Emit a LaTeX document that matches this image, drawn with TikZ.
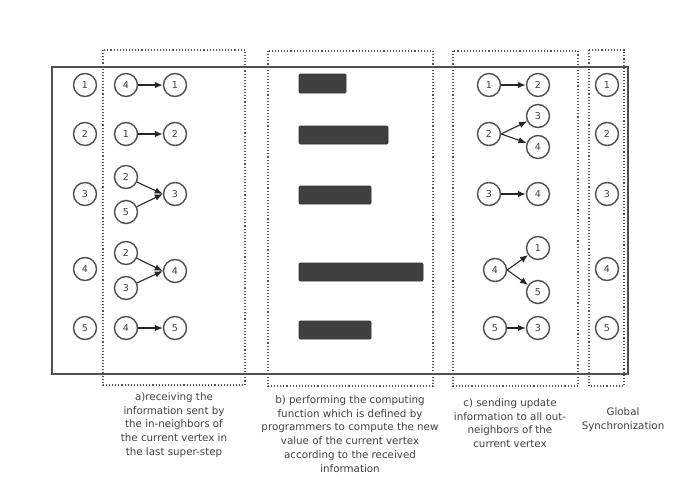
\documentclass[tikz,border=0pt]{standalone}
\usepackage{fontspec}
\setmainfont{DejaVu Sans}
\usetikzlibrary{arrows.meta}
\definecolor{linegray}{HTML}{505050}
\definecolor{textgray}{HTML}{3F3F3F}
\definecolor{bargray}{HTML}{404040}
\definecolor{dotgray}{HTML}{555555}
\tikzset{
  vtx/.style={circle, draw=linegray, line width=1.4pt, minimum size=23pt, inner sep=0pt,
    text=textgray, font=\fontsize{9.5}{10}\selectfont},
  frame/.style={draw=linegray, line width=2pt},
  stagebox/.style={draw=dotgray, line width=1.1pt, dotted},
  workbar/.style={fill=bargray, draw=bargray!80!black, line width=0.6pt, rounded corners=1pt},
  msg/.style={draw=black!85, line width=1.1pt, -{Latex[length=8pt,width=6.5pt]}},
  caption/.style={align=center, text=textgray, font=\fontsize{10.3}{13.8}\selectfont}
}
\begin{document}
\begin{tikzpicture}[x=1pt,y=-1pt]
\useasboundingbox (0,0) rectangle (686,488);

% outer frame
\draw[frame] (52,67) rectangle (628,374);

% stage boxes
\draw[stagebox] (103,50) rectangle (245,385);
\draw[stagebox] (268,51) rectangle (433,386);
\draw[stagebox] (453,51) rectangle (578,386);
\draw[stagebox] (589,50) rectangle (624,386);

% vertices at the start of the super-step
\node[vtx] (s1) at (85,85) {1};
\node[vtx] (s2) at (85,134) {2};
\node[vtx] (s3) at (85,194) {3};
\node[vtx] (s4) at (85,269) {4};
\node[vtx] (s5) at (85,328) {5};

% a) receiving messages from in-neighbours
\node[vtx] (a1s) at (126,85) {4};
\node[vtx] (a1t) at (175,85) {1};
\draw[msg] (a1s) -- (a1t);
\node[vtx] (a2s) at (126,134) {1};
\node[vtx] (a2t) at (175,134) {2};
\draw[msg] (a2s) -- (a2t);
\node[vtx] (a3s) at (126,177) {2};
\node[vtx] (a3u) at (126,212) {5};
\node[vtx] (a3t) at (175,194) {3};
\draw[msg] (a3s) -- (a3t.west);
\draw[msg] (a3u) -- (a3t.west);
\node[vtx] (a4s) at (126,253) {2};
\node[vtx] (a4u) at (126,288) {3};
\node[vtx] (a4t) at (175,271) {4};
\draw[msg] (a4s) -- (a4t.west);
\draw[msg] (a4u) -- (a4t.west);
\node[vtx] (a5s) at (126,328) {4};
\node[vtx] (a5t) at (175,328) {5};
\draw[msg] (a5s) -- (a5t);

% b) computation per vertex
\path[workbar] (299,74) rectangle (346,93);
\path[workbar] (299,126) rectangle (388,144);
\path[workbar] (299,186) rectangle (371,204);
\path[workbar] (299,263) rectangle (423,281);
\path[workbar] (299,321) rectangle (371,339);

% c) sending updates to out-neighbours
\node[vtx] (c1s) at (489,85) {1};
\node[vtx] (c1t) at (538,85) {2};
\draw[msg] (c1s) -- (c1t);
\node[vtx] (c2s) at (489,134) {2};
\node[vtx] (c2t) at (538,116) {3};
\node[vtx] (c2u) at (538,147) {4};
\draw[msg] (c2s.east) -- (c2t);
\draw[msg] (c2s.east) -- (c2u);
\node[vtx] (c3s) at (489,194) {3};
\node[vtx] (c3t) at (538,194) {4};
\draw[msg] (c3s) -- (c3t);
\node[vtx] (c4s) at (495,270) {4};
\node[vtx] (c4t) at (538,248) {1};
\node[vtx] (c4u) at (538,292) {5};
\draw[msg] (c4s.east) -- (c4t);
\draw[msg] (c4s.east) -- (c4u);
\node[vtx] (c5s) at (495,328) {5};
\node[vtx] (c5t) at (538,328) {3};
\draw[msg] (c5s) -- (c5t);

% global synchronization
\node[vtx] (g1) at (607,85) {1};
\node[vtx] (g2) at (607,134) {2};
\node[vtx] (g3) at (607,194) {3};
\node[vtx] (g4) at (607,269) {4};
\node[vtx] (g5) at (607,328) {5};

% captions
\node[caption, anchor=north] (capa) at (174,389) {a)receiving the\\information sent by\\the in-neighbors of\\the current vertex in\\the last super-step};
\node[caption, anchor=north] (capb) at (350,392) {b) performing the computing\\function which is defined by\\programmers to compute the new\\value of the current vertex\\according to the received\\information};
\node[caption, anchor=north] (capc) at (510,395) {c) sending update\\information to all out-\\neighbors of the\\current vertex};
\node[caption, anchor=north] (capg) at (623,404) {Global\\Synchronization};
\end{tikzpicture}
\end{document}
